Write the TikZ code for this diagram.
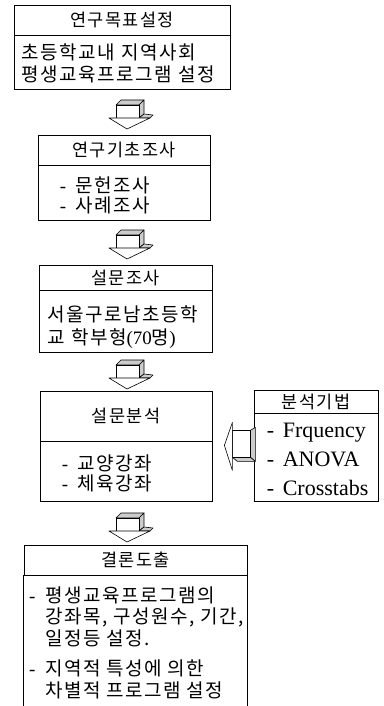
\documentclass[tikz,border=0pt]{standalone}
\usepackage{fontspec}
\setmainfont{Liberation Serif}
\newfontfamily\krfont[LetterSpace=8]{Noto Sans CJK KR}
\usetikzlibrary{calc,positioning}

\newcommand{\itemdash}{\makebox[16pt][l]{\rmfamily -}}

\tikzset{
  boxline/.style={line width=0.8pt},
  box/.style={draw, boxline, inner sep=0pt},
  titlebox/.style={box, font=\krfont\fontsize{17.5}{22}\selectfont},
  bodytext/.style={anchor=west, align=left, inner sep=0pt, font=\krfont\fontsize{19}{#1}\selectfont},
  latintext/.style={anchor=west, align=left, inner sep=0pt, font=\rmfamily\fontsize{22}{#1}\selectfont},
  arrowline/.style={draw, line width=0.6pt, line join=round},
  face/.style={arrowline, fill=gray!40},
  % 3D block arrow pointing down, origin at top centre
  downarrow/.pic={
    \filldraw[face] (-12,5) -- (-7,0) -- (16,0) -- (11,5) -- cycle;
    \filldraw[face] (11,5) -- (16,0) -- (16,14) -- (11,18) -- cycle;
    \filldraw[face] (11,18) -- (16,14) -- (25,15) -- (22,18) -- cycle;
    \filldraw[arrowline, fill=white] (-12,5) rectangle (11,18);
    \filldraw[arrowline, fill=white] (-19,18) -- (22,18) -- (-1,29) -- cycle;
  },
  % 3D block arrow pointing left, origin at tip
  leftarrow/.pic={
    \filldraw[face] (26,-15) -- (31,-18) -- (31,16) -- (26,12) -- cycle;
    \filldraw[face] (8,12) -- (26,12) -- (31,16) -- (13,16) -- cycle;
    \filldraw[arrowline, fill=white] (8,-15) rectangle (26,12);
    \filldraw[arrowline, fill=white] (0,0) -- (8,-23) -- (8,25) -- cycle;
  }
}

\begin{document}
\begin{tikzpicture}[x=1pt, y=-1pt]
  \useasboundingbox (0,0) rectangle (383,706);

  % --- 1. Goal ---
  \node[titlebox, minimum width=216, minimum height=30] (goal) at (122,20) {연구목표설정};
  \node[box, minimum width=216, minimum height=54, anchor=north] (goalbody) at (goal.south) {};
  \node[bodytext=22] (goaltext) at ($(goalbody.west)+(8,1)$) {초등학교내 지역사회\\평생교육프로그램 설정};
  \pic at (128,100) {downarrow};

  % --- 2. Basic study ---
  \node[titlebox, minimum width=172, minimum height=30] (basic) at (124,150) {연구기초조사};
  \node[box, minimum width=172, minimum height=55, anchor=north] (basicbody) at (basic.south) {};
  \node[bodytext=20] (basictext) at ($(basicbody.west)+(22,2.5)$) {\itemdash 문헌조사\\\itemdash 사례조사};
  \pic at (128,230) {downarrow};

  % --- 3. Survey ---
  \node[titlebox, minimum width=173, minimum height=25] (survey) at (125.5,277.5) {설문조사};
  \node[box, minimum width=173, minimum height=62, anchor=north] (surveybody) at (survey.south) {};
  \node[bodytext=23] (surveytext) at ($(surveybody.west)+(9,5)$) {서울구로남초등학\\교 학부형{\rmfamily(70}명{\rmfamily)}};
  \pic at (128,360) {downarrow};

  % --- 4. Analysis ---
  \node[titlebox, minimum width=172, minimum height=50] (analysis) at (126,416) {설문분석};
  \node[box, minimum width=172, minimum height=60, anchor=north] (analysisbody) at (analysis.south) {};
  \node[bodytext=20.5] (analysistext) at ($(analysisbody.west)+(22,1.5)$) {\itemdash 교양강좌\\\itemdash 체육강좌};

  % --- 5. Methods ---
  \node[titlebox, minimum width=124, minimum height=23] (method) at (316,401.5) {분석기법};
  \node[box, minimum width=124, minimum height=88, anchor=north] (methodbody) at (method.south) {};
  \node[latintext=29] (methodtext) at ($(methodbody.west)+(13,2)$) {\itemdash Frquency\\\itemdash ANOVA\\\itemdash Crosstabs};
  \pic at ($(analysis.south east)+(12,4)$) {leftarrow};
  \pic at (128,513) {downarrow};

  % --- 6. Conclusion ---
  \node[titlebox, minimum width=223, minimum height=30] (conc) at (135.5,560) {결론도출};
  \node[minimum width=223, minimum height=131, inner sep=0pt, anchor=north] (concbody) at (conc.south) {};
  \draw[boxline] (concbody.north west) -- (concbody.south west);
  \draw[boxline] (concbody.north east) -- (concbody.south east);
  \node[bodytext=21.5] (conctext) at ($(concbody.west)+(5,1.5)$) {\itemdash 평생교육프로그램의\\\hspace*{16pt}강좌목, 구성원수, 기간,\\\hspace*{16pt}일정등 설정.\\[9pt]\itemdash 지역적 특성에 의한\\\hspace*{16pt}차별적 프로그램 설정};
\end{tikzpicture}
\end{document}
